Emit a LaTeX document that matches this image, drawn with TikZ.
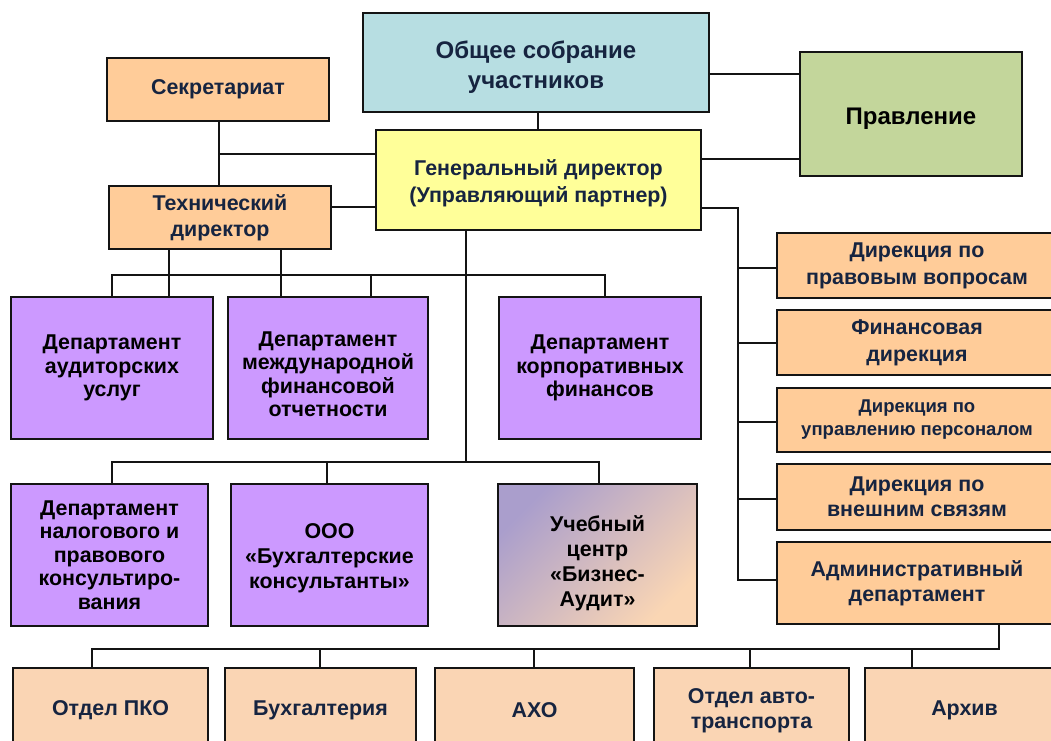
\documentclass[tikz,border=0pt]{standalone}
\usepackage{fontspec}
\setmainfont{Liberation Sans}
\definecolor{cyanbox}{RGB}{183,222,226}
\definecolor{greenbox}{RGB}{195,214,155}
\definecolor{yellowbox}{RGB}{255,255,153}
\definecolor{orangebox}{RGB}{255,204,153}
\definecolor{purplebox}{RGB}{204,153,255}
\definecolor{peachbox}{RGB}{250,213,180}
\definecolor{gradA}{RGB}{170,158,204}
\definecolor{gradB}{RGB}{250,214,180}
\definecolor{navy}{RGB}{22,36,64}
\definecolor{edgec}{RGB}{20,20,20}
\newcommand{\lowr}[1]{\rule{0pt}{#1pt}}
\begin{document}
\begin{tikzpicture}[x=1pt,y=-1pt,
  box/.style={draw=edgec, line width=1.6pt, align=center, inner sep=0pt,
    font=\bfseries\fontsize{21.4}{23.5}\selectfont, text=navy},
  bigtxt/.style={font=\bfseries\fontsize{24}{30}\selectfont},
  topbox/.style={box, fill=cyanbox, bigtxt},
  boardbox/.style={box, fill=greenbox, bigtxt, text=black},
  gdbox/.style={box, fill=yellowbox, font=\bfseries\fontsize{21.4}{27}\selectfont},
  obox/.style={box, fill=orangebox},
  pbox/.style={box, fill=purplebox, text=black},
  gbox/.style={box, text=black, top color=gradA, bottom color=gradB, shading angle=45},
  rbox/.style={box, fill=orangebox, font=\bfseries\fontsize{21.4}{27}\selectfont},
  bbox/.style={box, fill=peachbox, font=\bfseries\fontsize{21.4}{25}\selectfont},
  conn/.style={draw=edgec, line width=1.3pt}]
\useasboundingbox (0,0) rectangle (1051,740);
\clip (0,0) rectangle (1051,740);
\fill[white] (0,0) rectangle (1051,740);

% top level
\node[topbox, minimum width=346pt, minimum height=99pt] (obs) at (536,62.5) {\lowr{26}Общее собрание\\участников};
\node[boardbox, minimum width=222pt, minimum height=124pt] (prav) at (911,114) {\lowr{25}Правление};
\node[obox, minimum width=222pt, minimum height=63pt] (sec) at (218,89.5) {Секретариат};
\node[gdbox, minimum width=325pt, minimum height=100pt] (gd) at (538.5,180) {\lowr{21.6}Генеральный директор\\(Управляющий партнер)};
\node[obox, minimum width=222pt, minimum height=63pt, font=\bfseries\fontsize{21.4}{26}\selectfont] (td) at (220,217.5) {Технический\\директор};

% departments row 1
\node[pbox, minimum width=202pt, minimum height=142pt] (d1) at (112,368) {Департамент\\аудиторских\\услуг};
\node[pbox, minimum width=200pt, minimum height=142pt] (d2) at (328,368) {\lowr{27}Департамент\\международной\\финансовой\\отчетности};
\node[pbox, minimum width=202pt, minimum height=142pt] (d3) at (600,368) {Департамент\\корпоративных\\финансов};

% departments row 2
\node[pbox, minimum width=197pt, minimum height=142pt] (e1) at (109.5,555) {Департамент\\налогового и\\правового\\консультиро-\\вания};
\node[pbox, minimum width=197pt, minimum height=142pt, font=\bfseries\fontsize{21.4}{25}\selectfont] (e2) at (329.5,555) {\lowr{21.6}ООО\\«Бухгалтерские\\консультанты»};
\node[gbox, minimum width=199pt, minimum height=142pt, font=\bfseries\fontsize{21.4}{25}\selectfont] (e3) at (597.5,555) {\lowr{32}Учебный\\центр\\«Бизнес-\\Аудит»};

% right column
\node[rbox, minimum width=280pt, minimum height=65pt] (r1) at (917,265.5) {Дирекция по\\правовым вопросам};
\node[rbox, minimum width=280pt, minimum height=65pt] (r2) at (917,342.5) {Финансовая\\дирекция};
\node[rbox, minimum width=280pt, minimum height=64pt, font=\bfseries\fontsize{18.5}{23}\selectfont] (r3) at (917,420) {Дирекция по\\управлению персоналом};
\node[rbox, minimum width=280pt, minimum height=66pt, font=\bfseries\fontsize{21.4}{25}\selectfont] (r4) at (917,497) {Дирекция по\\внешним связям};
\node[rbox, minimum width=280pt, minimum height=82pt, font=\bfseries\fontsize{21.4}{25}\selectfont] (r5) at (917,583) {Административный\\департамент};

% bottom row
\node[bbox, minimum width=195pt, minimum height=80pt] (b1) at (110.5,708) {\lowr{19.5}Отдел ПКО};
\node[bbox, minimum width=191pt, minimum height=80pt] (b2) at (320.5,708) {\lowr{19.5}Бухгалтерия};
\node[bbox, minimum width=199pt, minimum height=80pt] (b3) at (534.5,708) {\lowr{19.5}АХО};
\node[bbox, minimum width=195pt, minimum height=80pt] (b4) at (751.5,708) {\lowr{19.5}Отдел авто-\\транспорта};
\node[bbox, minimum width=199pt, minimum height=80pt] (b5) at (964.5,708) {\lowr{19.5}Архив};

% connectors: top
\draw[conn] (obs.east |- 0,74) -- (prav.west |- 0,74);
\draw[conn] (538,0 |- obs.south) -- (538,0 |- gd.north);
\draw[conn] (gd.east |- 0,159) -- (prav.west |- 0,159);
\draw[conn] (219,0 |- sec.south) -- (219,0 |- td.north);
\draw[conn] (219,154) -- (gd.west |- 0,154);
\draw[conn] (td.east |- 0,207) -- (gd.west |- 0,207);

% technical director -> row 1
\draw[conn] (169,0 |- td.south) -- (169,0 |- d1.north);
\draw[conn] (281,0 |- td.south) -- (281,0 |- d2.north);
\draw[conn] (d1.north) -- (112,275) -- (605,275) -- (605,0 |- d3.north);
\draw[conn] (371,275) -- (371,0 |- d2.north);

% general director -> row 2
\draw[conn] (466,0 |- gd.south) -- (466,462);
\draw[conn] (112,0 |- e1.north) -- (112,462) -- (599,462) -- (599,0 |- e3.north);
\draw[conn] (327,462) -- (327,0 |- e2.north);

% general director -> right column
\draw[conn] (gd.east |- 0,208) -- (738,208) -- (738,580) -- (r5.west |- 0,580);
\draw[conn] (738,268) -- (r1.west |- 0,268);
\draw[conn] (738,343) -- (r2.west |- 0,343);
\draw[conn] (738,422) -- (r3.west |- 0,422);
\draw[conn] (738,499) -- (r4.west |- 0,499);

% administrative department -> bottom row
\draw[conn] (999,0 |- r5.south) -- (999,649) -- (92,649) -- (92,0 |- b1.north);
\draw[conn] (320,649) -- (320,0 |- b2.north);
\draw[conn] (534,649) -- (534,0 |- b3.north);
\draw[conn] (750,649) -- (750,0 |- b4.north);
\draw[conn] (912,649) -- (912,0 |- b5.north);
\end{tikzpicture}
\end{document}
